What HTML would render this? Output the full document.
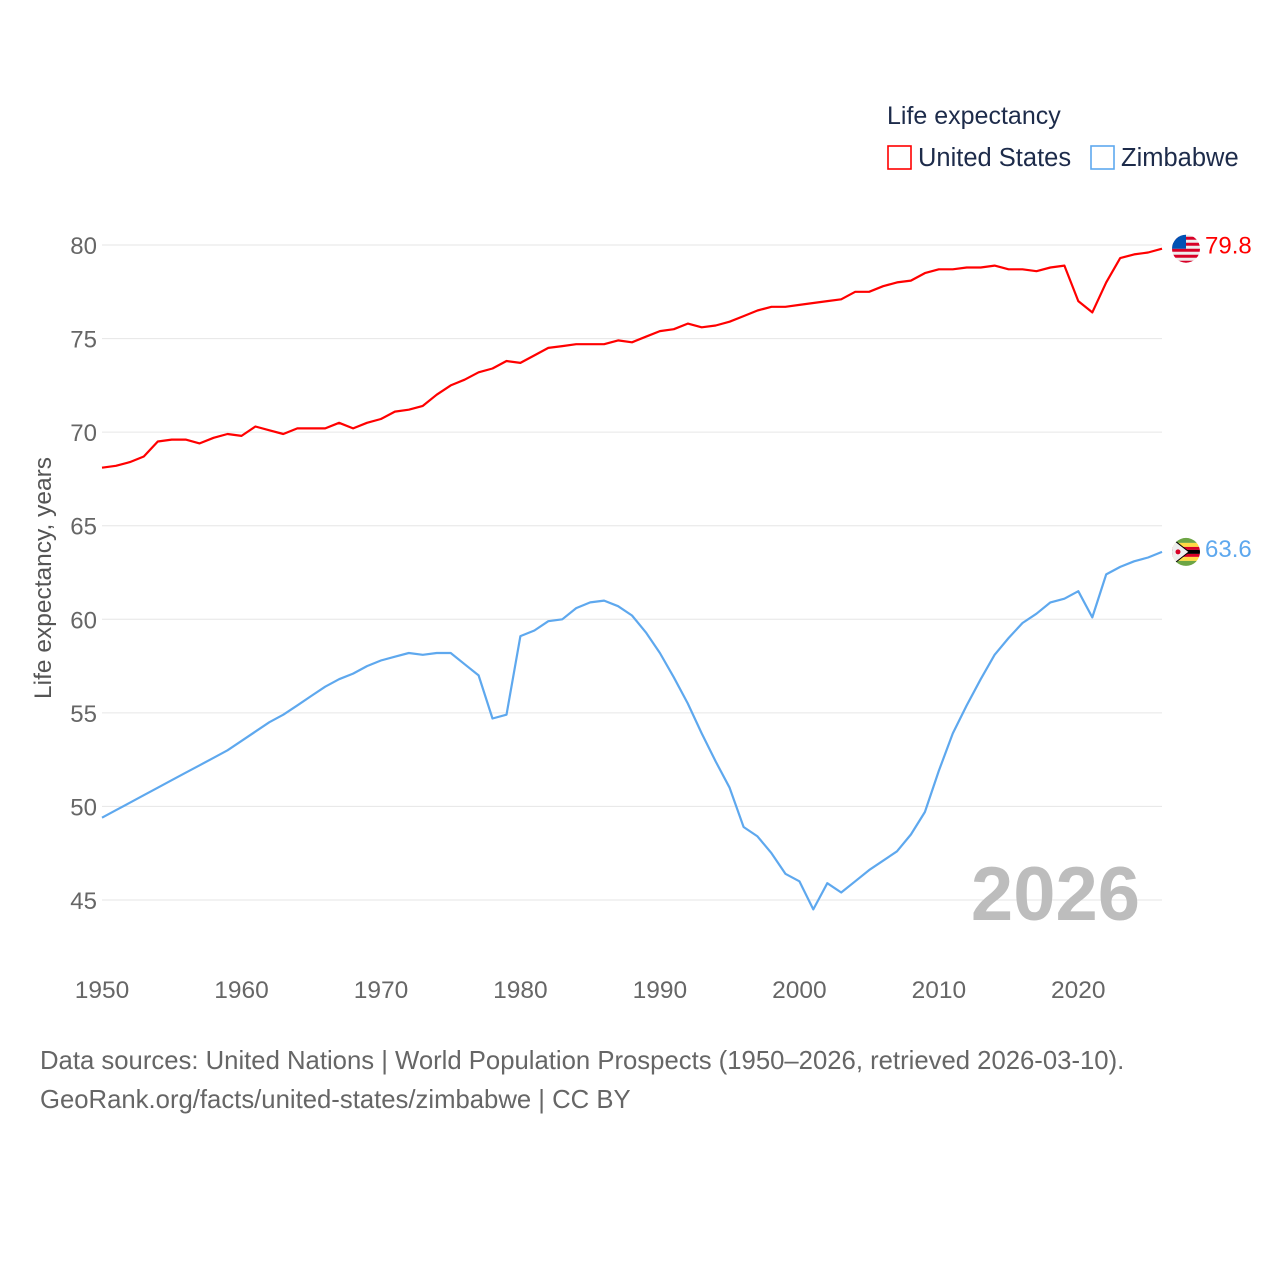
<!DOCTYPE html>
<html><head><meta charset="utf-8"><style>
body{margin:0;background:#fff;font-family:"Liberation Sans",sans-serif}
svg text{font-family:"Liberation Sans",sans-serif}
</style></head><body>
<svg id="chart" width="1280" height="1280" viewBox="0 0 1280 1280" xmlns="http://www.w3.org/2000/svg">
<defs>
<clipPath id="clipUS"><circle id="cUS" cx="1186" cy="0" r="14"/></clipPath>
<clipPath id="clipZW"><circle id="cZW" cx="1186" cy="0" r="14"/></clipPath>
</defs>
<rect width="1280" height="1280" fill="#fff"/>
<g id="grid"></g><g id="yticks"></g><g id="xticks"></g>
<text transform="translate(51,578) rotate(-90)" text-anchor="middle" font-size="24.5" fill="#555">Life expectancy, years</text>
<text x="1140" y="920" text-anchor="end" font-size="76" font-weight="bold" fill="#bdbdbd">2026</text>
<g id="series"></g>
<g>
<text x="887" y="124" font-size="25" fill="#1d2b4a">Life expectancy</text>
<g><rect x="888" y="146" width="23" height="23" fill="none" stroke="#ff0000" stroke-width="1.6"/><text x="918" y="166" font-size="25.5" fill="#1d2b4a">United States</text></g>
<g><rect x="1091" y="146" width="23" height="23" fill="none" stroke="#5ea8ee" stroke-width="1.6"/><text x="1121" y="166" font-size="25.5" fill="#1d2b4a">Zimbabwe</text></g>
</g>
<text x="40" y="1069" font-size="25.7" fill="#666">Data sources: United Nations | World Population Prospects (1950–2026, retrieved 2026-03-10).</text>
<text x="40" y="1108" font-size="25.7" fill="#666">GeoRank.org/facts/united-states/zimbabwe | CC BY</text>
</svg>
<script>
const years=[];for(let y=1950;y<=2026;y++)years.push(y);
const usValues=[68.1,68.2,68.4,68.7,69.5,69.6,69.6,69.4,69.7,69.9,69.8,70.3,70.1,69.9,70.2,70.2,70.2,70.5,70.2,70.5,70.7,71.1,71.2,71.4,72.0,72.5,72.8,73.2,73.4,73.8,73.7,74.1,74.5,74.6,74.7,74.7,74.7,74.9,74.8,75.1,75.4,75.5,75.8,75.6,75.7,75.9,76.2,76.5,76.7,76.7,76.8,76.9,77.0,77.1,77.5,77.5,77.8,78.0,78.1,78.5,78.7,78.7,78.8,78.8,78.9,78.7,78.7,78.6,78.8,78.9,77.0,76.4,78.0,79.3,79.5,79.6,79.8];
const zwValues=[49.4,49.8,50.2,50.6,51.0,51.4,51.8,52.2,52.6,53.0,53.5,54.0,54.5,54.9,55.4,55.9,56.4,56.8,57.1,57.5,57.8,58.0,58.2,58.1,58.2,58.2,57.6,57.0,54.7,54.9,59.1,59.4,59.9,60.0,60.6,60.9,61.0,60.7,60.2,59.3,58.2,56.9,55.5,53.9,52.4,51.0,48.9,48.4,47.5,46.4,46.0,44.5,45.9,45.4,46.0,46.6,47.1,47.6,48.5,49.7,51.9,53.9,55.4,56.8,58.1,59.0,59.8,60.3,60.9,61.1,61.5,60.1,62.4,62.8,63.1,63.3,63.6];
const yTicks=[45,50,55,60,65,70,75,80];
const xTicks=[1950,1960,1970,1980,1990,2000,2010,2020];
const X0=102,X1=1162;
const xs=y=>X0+(y-1950)/(2026-1950)*(X1-X0);
const ys=v=>245+(80-v)*(655/35);
const NS="http://www.w3.org/2000/svg";
function mk(tag,attrs,parent){const e=document.createElementNS(NS,tag);for(const k in attrs)e.setAttribute(k,attrs[k]);parent.appendChild(e);return e;}
const grid=document.getElementById('grid'),yt=document.getElementById('yticks'),xt=document.getElementById('xticks'),ser=document.getElementById('series');
yTicks.forEach(v=>{
 const l=mk('line',{x1:X0,x2:X1,y1:ys(v),y2:ys(v),stroke:'#e6e6e6','stroke-width':1},grid);
 
 
 const t=mk('text',{x:97,y:ys(v)+9,'text-anchor':'end','font-size':24,fill:'#666'},yt);t.textContent=v;
 
 
});
xTicks.forEach(v=>{
 const t=mk('text',{x:xs(v),y:998,'text-anchor':'middle','font-size':24.5,fill:'#666'},xt);t.textContent=v;
 
 
});
function line(vals,color,name){
 const p=mk('path',{d:vals.map((v,i)=>(i?'L':'M')+xs(years[i]).toFixed(1)+','+ys(v).toFixed(1)).join(''),fill:'none',stroke:color,'stroke-width':2.2,'stroke-linejoin':'round'},ser);
 
 
 return ys(vals[vals.length-1]);
}
const usCy=line(usValues,'#ff0000','united-states');
const zwCy=line(zwValues,'#5ea8ee','zimbabwe');
document.getElementById('cUS').setAttribute('cy',usCy);
document.getElementById('cZW').setAttribute('cy',zwCy);
const g1=mk('g',{'clip-path':'url(#clipUS)'},ser);


mk('rect',{x:1170,y:usCy-15,width:32,height:30,fill:'#eee'},g1);
[0,1,2,3,4].forEach(i=>mk('rect',{x:1170,y:usCy-12+i*6,width:32,height:3,fill:'#d80027'},g1));
mk('rect',{x:1170,y:usCy-15,width:16,height:15,fill:'#0052b4'},g1);
const g2=mk('g',{'clip-path':'url(#clipZW)'},ser);


[['#6da544',-15,6],['#ffda44',-9,4],['#d80027',-5,3],['#000',-2,4],['#d80027',2,3],['#ffda44',5,4],['#6da544',9,6]].forEach(s=>mk('rect',{x:1170,y:zwCy+s[1],width:32,height:s[2],fill:s[0]},g2));
mk('path',{d:`M1171,${zwCy-14} L1189,${zwCy} L1171,${zwCy+14}Z`,fill:'#eee',stroke:'#000','stroke-width':1},g2);
mk('circle',{cx:1178,cy:zwCy,r:2.5,fill:'#d80027'},g2);
const t1=mk('text',{x:1205,y:usCy+5,'font-size':24,fill:'#ff0000'},ser);t1.textContent=usValues[usValues.length-1].toFixed(1);


const t2=mk('text',{x:1205,y:zwCy+5,'font-size':24,fill:'#5ea8ee'},ser);t2.textContent=zwValues[zwValues.length-1].toFixed(1);


</script>
</body></html>
